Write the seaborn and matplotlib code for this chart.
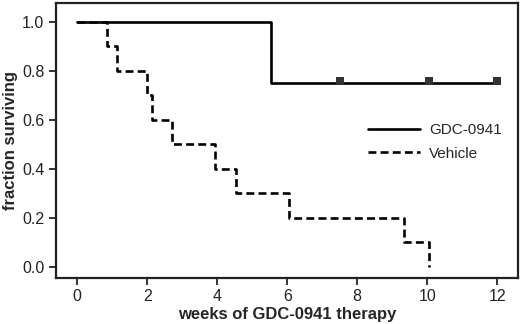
import matplotlib
matplotlib.use("Agg")
import matplotlib.pyplot as plt
import pandas as pd
import seaborn as sns

# Kaplan-Meier step data
gdc_times = [0.0, 5.55, 12.0]
gdc_surv = [1.0, 0.75, 0.75]
gdc_censor_times = [7.5, 10.05, 12.0]
gdc_censor_surv = [0.757, 0.757, 0.757]

veh_times = [0.0, 0.85, 1.15, 2.0, 2.15, 2.7, 3.95, 4.55, 6.05, 9.35, 10.05]
veh_surv = [1.0, 0.9, 0.8, 0.7, 0.6, 0.5, 0.4, 0.3, 0.2, 0.1, 0.0]

x_ticks = [0, 2, 4, 6, 8, 10, 12]
y_ticks = [0.0, 0.2, 0.4, 0.6, 0.8, 1.0]

df = pd.concat([
    pd.DataFrame({'weeks': gdc_times, 'surv': gdc_surv, 'group': 'GDC-0941'}),
    pd.DataFrame({'weeks': veh_times, 'surv': veh_surv, 'group': 'Vehicle'}),
], ignore_index=True)
censor_df = pd.DataFrame({'weeks': gdc_censor_times, 'surv': gdc_censor_surv})

sns.set_style('ticks')
plt.rcParams['font.family'] = ['Liberation Sans', 'DejaVu Sans']

fig = plt.figure(figsize=(5.2, 3.24), dpi=100)
ax = fig.add_axes([0.108, 0.143, 0.888, 0.848])

# Vehicle drawn first so the solid GDC line covers it where they overlap
sns.lineplot(data=df, x='weeks', y='surv', hue='group', style='group',
             hue_order=['Vehicle', 'GDC-0941'],
             style_order=['Vehicle', 'GDC-0941'],
             palette={'GDC-0941': 'black', 'Vehicle': 'black'},
             dashes={'GDC-0941': '', 'Vehicle': (3, 1.6)},
             drawstyle='steps-post', linewidth=1.9, sort=False,
             estimator=None, ax=ax)
sns.scatterplot(data=censor_df, x='weeks', y='surv', marker='s', s=30,
                color='#333333', edgecolor='none', ax=ax, zorder=5)

ax.set_xlim(-0.6, 12.59)
ax.set_ylim(-0.045, 1.076)
ax.set_xticks(x_ticks)
ax.set_yticks(y_ticks)
ax.set_yticklabels([f'{v:.1f}' for v in y_ticks])
ax.tick_params(labelsize=11.5, width=1.3, length=5, colors='#222222')
for sp in ax.spines.values():
    sp.set_linewidth(1.6)
    sp.set_color('#222222')

ax.set_xlabel('weeks of GDC-0941 therapy', fontsize=12, fontweight='bold',
              labelpad=2)
ax.set_ylabel('fraction surviving', fontsize=12, fontweight='bold',
              labelpad=3)

handles, labels = ax.get_legend_handles_labels()
order = [labels.index('GDC-0941'), labels.index('Vehicle')]
ax.legend([handles[i] for i in order], [labels[i] for i in order],
          frameon=False, loc='center left', bbox_to_anchor=(0.675, 0.494),
          handlelength=3.4, fontsize=11, borderaxespad=0, borderpad=0,
          handletextpad=0.6, labelspacing=0.6)

fig.savefig('out.png', dpi=100)
